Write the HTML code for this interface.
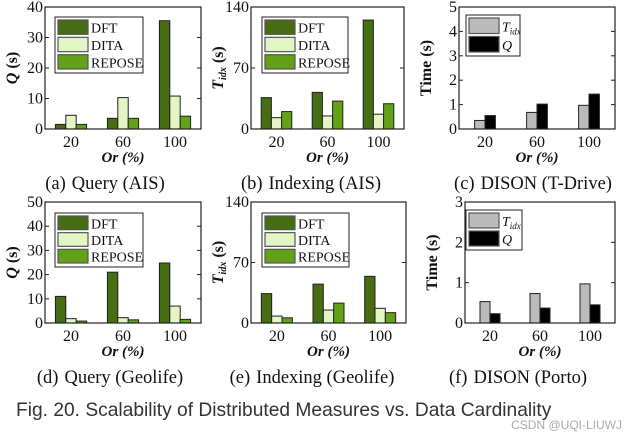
<!DOCTYPE html>
<html><head><meta charset="utf-8">
<style>
body{margin:0;background:#fff;width:636px;height:441px;overflow:hidden;}
svg text{font-family:"Liberation Serif",serif;}
</style></head><body>
<svg id="fig" width="636" height="441" viewBox="0 0 636 441" xmlns="http://www.w3.org/2000/svg">
<text x="16" y="416" font-size="19.2" fill="#333" style="font-family:'Liberation Sans',sans-serif">Fig. 20. Scalability of Distributed Measures vs. Data Cardinality</text>
<text x="622" y="429" font-size="12" fill="#aaa" text-anchor="end" style="font-family:'Liberation Sans',sans-serif">CSDN @UQI-LIUWJ</text>
</svg>
<script>
const categories=["20","60","100"];
const aDFT=[1.5,3.5,35.5], aDITA=[4.5,10.3,10.8], aREPOSE=[1.5,3.5,4.2];
const bDFT=[36,42,125], bDITA=[13,15,17], bREPOSE=[20,32,29];
const cTidx=[0.35,0.68,0.97], cQ=[0.55,1.02,1.43];
const dDFT=[11,21,24.8], dDITA=[1.8,2.2,7], dREPOSE=[0.8,1.3,1.5];
const eDFT=[34,45,54], eDITA=[8,15,17], eREPOSE=[6,23,12];
const fTidx=[0.53,0.73,0.97], fQ=[0.23,0.37,0.45];
const ticksA=[0,10,20,30,40], ticksB=[0,70,140], ticksC=[0,1,2,3,4,5];
const ticksD=[0,10,20,30,40,50], ticksF=[0,1,2,3];
const GREEN=["#466c14","#e3f5c4","#62a118"], GRAY=["#bbbbbb","#000000"];
const NS="http://www.w3.org/2000/svg";
const SERIF="'Liberation Serif', serif";
const svg=document.getElementById('fig');
function mk(tag,attrs,parent){const e=document.createElementNS(NS,tag);for(const k in attrs)e.setAttribute(k,attrs[k]);if(tag==='text')e.setAttribute('font-family',SERIF);(parent||svg).appendChild(e);return e;}
function panel(id,L,R,T,B,ticks,series,names,colors,ylab,capTag,capText,capX,leg){
  const g=mk('g',{});
  
  
  const max=ticks[ticks.length-1];
  const y=v=>B-(v/max)*(B-T);
  const step=(R-L)/3;
  const cx=i=>L+step*(i+0.5);
  const bw=step*0.2;
  const n=series.length;
  series.forEach((s,si)=>{
    s.forEach((v,i)=>{
      const x=cx(i)-bw*n/2+si*bw;
      const r=mk('rect',{x:x,y:y(v),width:bw,height:B-y(v),fill:colors[si],stroke:'#222','stroke-width':1},g);
      
      
    });
  });
  const ax=mk('rect',{x:L,y:T,width:R-L,height:B-T,fill:'none',stroke:'#222','stroke-width':1.2},g);
  
  
  ticks.forEach(t=>{
    mk('line',{x1:L,x2:L+4,y1:y(t),y2:y(t),stroke:'#222'},g);
    mk('line',{x1:R,x2:R-4,y1:y(t),y2:y(t),stroke:'#222'},g);
    const tx=mk('text',{x:L-2,y:y(t)+5,'font-size':16,'text-anchor':'end',fill:'#111'},g);
    tx.textContent=t;
    
    
  });
  categories.forEach((c,i)=>{
    const tx=mk('text',{x:cx(i),y:B+18,'font-size':16,'text-anchor':'middle',fill:'#111'},g);
    tx.textContent=c;
    
    
  });
  const xl=mk('text',{x:(L+R)/2,y:B+33,'font-size':15,'text-anchor':'middle','font-weight':'bold','font-style':'italic',fill:'#111'},g);
  xl.textContent='Or (%)';
  
  
  const yl=mk('text',{x:0,y:0,'font-size':16,'text-anchor':'middle','font-weight':'bold',fill:'#111',transform:'translate('+(L-28)+','+((T+B)/2)+') rotate(-90)'},g);
  yl.innerHTML=ylab;
  
  
  const cp=mk('text',{x:capX,y:B+60,'font-size':18.5,'text-anchor':'middle',fill:'#111'},g);
  cp.innerHTML='<tspan>'+capTag+'</tspan><tspan dx="6">'+capText+'</tspan>';
  
  
  const lg=mk('g',{},g);
  
  
  mk('rect',{x:leg[0],y:leg[1],width:leg[2],height:leg[3],fill:'#fff',stroke:'#222'},lg);
  const rh=(leg[3]-4)/n;
  names.forEach((nm,i)=>{
    const ry=leg[1]+2+i*rh;
    const sw=mk('rect',{x:leg[0]+3,y:ry+1,width:30,height:rh-3,fill:colors[i],stroke:'#555','stroke-width':1.2},lg);
    
    
    const t=mk('text',{x:leg[0]+36,y:ry+rh/2+5,'font-size':14,fill:'#111'},lg);
    if(nm==='Tidx'){t.innerHTML='<tspan font-style="italic">T</tspan><tspan font-style="italic" font-size="9" dy="3">idx</tspan>';}
    else if(nm==='Q'){t.innerHTML='<tspan font-style="italic">Q</tspan>';}
    else t.textContent=nm;
    
    
  });
}
const QL='<tspan font-style="italic">Q</tspan> (s)';
const TL='<tspan font-style="italic">T</tspan><tspan font-style="italic" font-size="10" dy="3">idx</tspan><tspan dy="-3"> (s)</tspan>';
panel('a',45,201,7,129,ticksA,[aDFT,aDITA,aREPOSE],["DFT","DITA","REPOSE"],GREEN,QL,'(a)','Query (AIS)',105,[55,17,88,56]);
panel('b',251,404,7,129,ticksB,[bDFT,bDITA,bREPOSE],["DFT","DITA","REPOSE"],GREEN,TL,'(b)','Indexing (AIS)',311,[262,17,86,56]);
panel('c',459,615,7,129,ticksC,[cTidx,cQ],["Tidx","Q"],GRAY,'Time (s)','(c)','DISON (T-Drive)',533,[466,15,54,41]);
panel('d',45,201,202,323,ticksD,[dDFT,dDITA,dREPOSE],["DFT","DITA","REPOSE"],GREEN,QL,'(d)','Query (Geolife)',110,[55,213,88,54]);
panel('e',251,406,202,323,ticksB,[eDFT,eDITA,eREPOSE],["DFT","DITA","REPOSE"],GREEN,TL,'(e)','Indexing (Geolife)',312,[262,213,87,54]);
panel('f',465,615,202,323,ticksF,[fTidx,fQ],["Tidx","Q"],GRAY,'Time (s)','(f)','DISON (Porto)',518,[466,210,56,40]);
</script>
</body></html>
